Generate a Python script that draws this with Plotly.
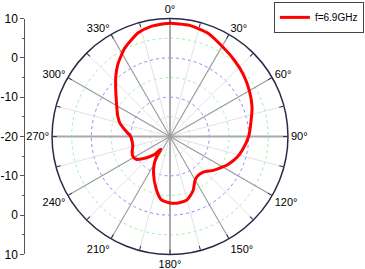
import numpy as np
import plotly.graph_objects as go

# ---- data ----
theta_deg = [0, 10, 20, 30, 40, 50, 60, 70, 80, 90, 100, 107, 115, 120, 128, 137, 146, 151, 157,
             165, 172, 180, 188, 195, 204, 210, 214, 216, 220, 226, 231, 236, 242, 248, 255, 262,
             270, 278, 285, 291, 298, 305, 312, 318, 324, 333, 343, 350, 357, 360]
gain_db = [8.8, 8.7, 8.0, 6.5, 5.4, 4.4, 3.3, 2.2, 0.9, 0.0, -1.2, -2.1, -3.5, -4.5, -6.0, -7.6, -7.7,
           -7.0, -5.0, -3.3, -3.0, -3.1, -3.8, -6.3, -9.7, -12.0, -14.0, -16.0, -14.2, -12.5, -11.0,
           -9.6, -9.3, -9.6, -10.2, -10.3, -10.0, -8.5, -6.8, -5.8, -4.7, -3.3, -1.4, 0.6, 2.6, 5.3,
           7.6, 8.4, 8.7, 8.8]
series_name = "f=6.9GHz"

r_range = [-20, 10]
ring_values = [-15, -10, -5, 0, 5]
ring_colors = ["#a0eea0", "#8080ff", "#a0eea0", "#8080ff", "#a0eea0"]
major_spokes = [0, 30, 60, 90, 120, 150, 180, 210, 240, 270, 300, 330]
minor_spokes = [15, 45, 75, 105, 135, 165, 195, 225, 255, 285, 315, 345]
angle_tickvals = list(range(0, 360, 15))
angle_ticktext = [f"{a}°" if a % 30 == 0 else "" for a in angle_tickvals]

left_tickvals = [30, 20, 10, 0, -10, -20, -30]
left_ticktext = ["10", "0", "-10", "-20", "-10", "0", "10"]
left_minorvals = [25, 15, 5, -5, -15, -25]

FONT = "Arial, Liberation Sans, sans-serif"

fig = go.Figure()

# rings
ring_theta = np.linspace(0, 360, 361)
for rv, col in zip(ring_values, ring_colors):
    fig.add_trace(go.Scatterpolar(r=[rv] * len(ring_theta), theta=ring_theta, mode="lines",
                                  line=dict(color=col, width=1, dash="dot"),
                                  hoverinfo="skip", showlegend=False))
# light spokes
for a in minor_spokes:
    fig.add_trace(go.Scatterpolar(r=r_range, theta=[a, a], mode="lines",
                                  line=dict(color="#e2e2e2", width=1),
                                  hoverinfo="skip", showlegend=False))
# dark spokes
for a in major_spokes:
    w = 2 if a % 90 == 0 else 1.1
    c = "#aaaaaa" if a % 90 == 0 else "#999999"
    fig.add_trace(go.Scatterpolar(r=r_range, theta=[a, a], mode="lines",
                                  line=dict(color=c, width=w),
                                  hoverinfo="skip", showlegend=False))

# main series
fig.add_trace(go.Scatterpolar(r=gain_db, theta=theta_deg, mode="lines", name=series_name,
                              line=dict(color="#ff0000", width=3, shape="spline", smoothing=0.6)))

# dummy cartesian trace for the left scale axis
fig.add_trace(go.Scatter(x=[0, 0], y=[min(left_tickvals), max(left_tickvals)], mode="markers",
                         marker=dict(opacity=0), hoverinfo="skip", showlegend=False))

dom_y = [0.054, 0.931]
fig.update_layout(
    width=365, height=269,
    margin=dict(l=0, r=0, t=0, b=0, autoexpand=False),
    paper_bgcolor="white", plot_bgcolor="rgba(0,0,0,0)",
    font=dict(family=FONT, size=11, color="black"),
    polar=dict(
        domain=dict(x=[0.1425, 0.789], y=dom_y),
        bgcolor="white",
        radialaxis=dict(range=r_range, showgrid=False, showline=False, showticklabels=False,
                        ticks=""),
        angularaxis=dict(rotation=90, direction="clockwise", tickvals=angle_tickvals,
                         ticktext=angle_ticktext, ticks="inside", ticklen=4, tickcolor="#333344",
                         showgrid=False, showline=True, linecolor="#2a2a48", linewidth=1.5,
                         tickfont=dict(family=FONT, size=11, color="black")),
    ),
    xaxis=dict(domain=[0.066, 0.07], visible=False, fixedrange=True),
    yaxis=dict(domain=dom_y, range=[-30, 30], anchor="free", position=0.0666, automargin=False,
               tickvals=left_tickvals, ticktext=left_ticktext, ticks="outside", ticklen=4,
               tickcolor="#555555", showline=True, linecolor="#555555", linewidth=1,
               showgrid=False, zeroline=False, fixedrange=True,
               tickfont=dict(family=FONT, size=12, color="black"),
               minor=dict(tickvals=left_minorvals, ticks="outside", ticklen=2, tickcolor="#555555")),
    showlegend=True,
    legend=dict(x=0.997, y=0.993, xanchor="right", yanchor="top", bgcolor="white",
                bordercolor="#444444", borderwidth=1, font=dict(family=FONT, size=10),
                itemwidth=30, tracegroupgap=0),
)

fig.write_html("out.html", config={"displayModeBar": False},
               post_script="document.body.style.margin='0';")
